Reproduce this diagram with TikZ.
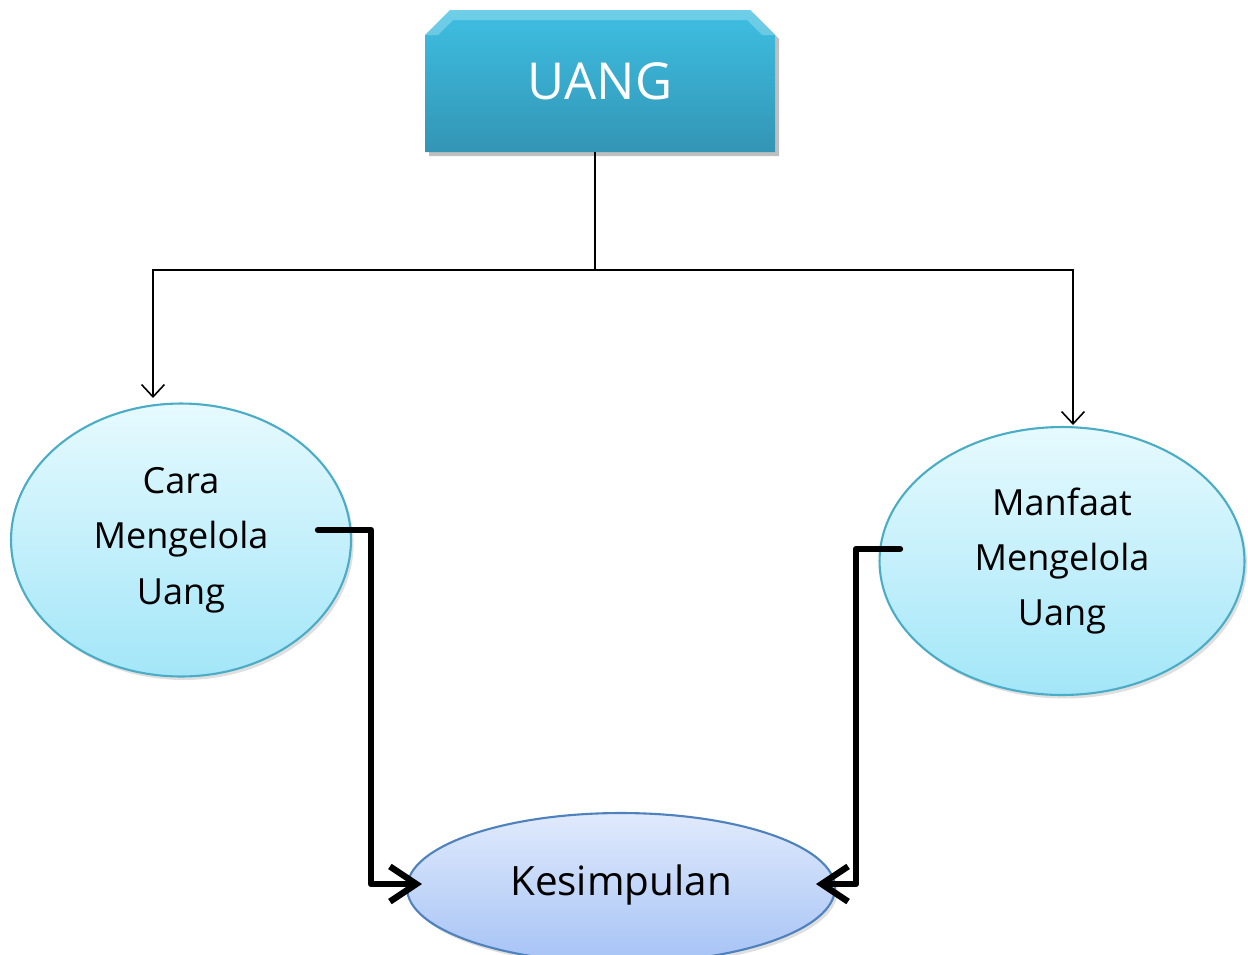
\documentclass[tikz,border=0pt]{standalone}
\usepackage{fontspec}
\setmainfont{Open Sans}
\usetikzlibrary{shapes.geometric,arrows.meta,shadows}
\definecolor{boxtop}{HTML}{3EBFE2}
\definecolor{boxbot}{HTML}{3395B5}
\definecolor{cyantop}{HTML}{E6FAFE}
\definecolor{cyanbot}{HTML}{A3E6F8}
\definecolor{cyanline}{HTML}{4BACC6}
\definecolor{bluetop}{HTML}{E0EAFC}
\definecolor{bluebot}{HTML}{A6C3F5}
\definecolor{blueline}{HTML}{4F81BD}
\tikzset{
  oval/.style={ellipse, draw=cyanline, line width=1.2pt, top color=cyantop, bottom color=cyanbot,
    align=center, font=\fontsize{20.5}{31.5}\selectfont, inner sep=0pt,
    drop shadow={shadow xshift=1.5pt, shadow yshift=-2pt, opacity=0.25}},
  thinarrow/.style={line width=0.9pt, -{Straight Barb[length=7pt,width=13pt]}},
  thickarrow/.style={line width=3.6pt, line cap=round, line join=round, -{Straight Barb[length=15pt,width=20pt]}},
}
\begin{document}
\begin{tikzpicture}[x=0.02cm,y=-0.02cm]
\useasboundingbox (0,0) rectangle (1248,954);
% UANG box
\fill[black,opacity=0.25] (429,39) -- (454,14) -- (754,14) -- (779,39) -- (779,156) -- (429,156) -- cycle;
\shade[top color=boxtop, bottom color=boxbot] (425,35) -- (450,10) -- (750,10) -- (775,35) -- (775,152) -- (425,152) -- cycle;
\fill[white,opacity=0.25] (425,35) -- (450,10) -- (750,10) -- (775,35) -- (762,35) -- (747,20) -- (453,20) -- (438,35) -- cycle;
\node[text=white, font=\fontsize{29}{34}\selectfont, inner sep=0pt, minimum width=7cm, minimum height=2.84cm] (uang) at (600,81) {UANG};
% ellipses
\node[oval, minimum width=6.8cm, minimum height=5.46cm] (cara) at (181,540) {Cara\\Mengelola\\Uang};
\node[oval, minimum width=7.3cm, minimum height=5.36cm] (manfaat) at (1062,561) {Manfaat\\Mengelola\\Uang};
\node[oval, draw=blueline, top color=bluetop, bottom color=bluebot, minimum width=8.56cm, minimum height=3.0cm, font=\fontsize{23}{28}\selectfont] (kes) at (621,888) {\raisebox{0.3cm}{Kesimpulan}};
% thin connectors
\coordinate (j) at (595,270);
\coordinate (ta) at (153,398);
\coordinate (tb) at (1073,425);
\draw[line width=0.9pt] (uang.south -| j) -- (j);
\draw[thinarrow] (j) -| (ta);
\draw[thinarrow] (j) -| (tb);
% thick connectors
\coordinate (sa) at (318,530);
\coordinate (ea) at (422,884);
\coordinate (sb) at (900,549);
\coordinate (eb) at (816,884);
\draw[thickarrow] (sa) -- (371,530) |- (ea);
\draw[thickarrow] (sb) -- (856,549) |- (eb);
\end{tikzpicture}
\end{document}
